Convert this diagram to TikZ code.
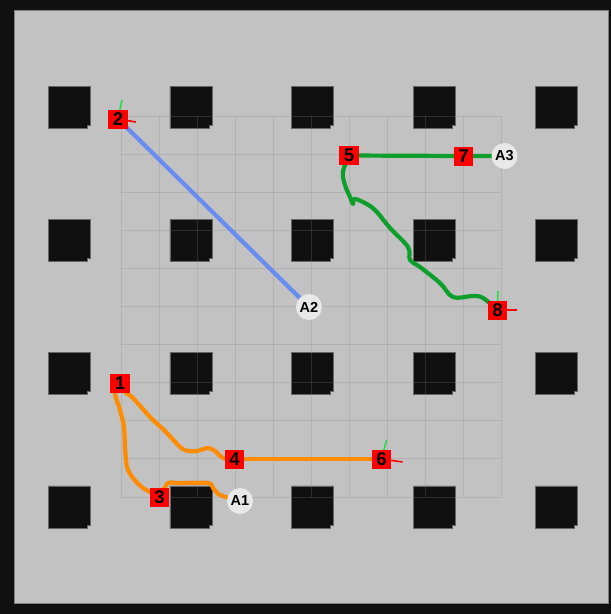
\documentclass[tikz,border=0pt]{standalone}
\usepackage{fontspec}
\setmainfont{Liberation Sans}

\definecolor{floorgray}{RGB}{194,194,194}
\definecolor{wallblack}{RGB}{16,16,16}
\definecolor{gridgray}{RGB}{131,131,131}
\definecolor{trailblue}{RGB}{104,140,240}
\definecolor{trailgreen}{RGB}{14,158,44}
\definecolor{trailorange}{RGB}{255,140,0}
\definecolor{agentgray}{RGB}{232,232,232}
\definecolor{axisgreen}{RGB}{40,220,70}

\pgfdeclarelayer{floor}
\pgfdeclarelayer{trail}
\pgfsetlayers{floor,trail,main}

\tikzset{
  goal/.style={fill=red, minimum width=19.5pt, minimum height=19pt, inner sep=0pt,
    font=\fontsize{18.5}{18.5}\selectfont\bfseries},
  agent/.style={circle, fill=agentgray, minimum size=26pt, inner sep=0pt,
    font=\fontsize{14.5}{14.5}\selectfont\bfseries},
  trail/.style={line width=4.2pt, line cap=round, line join=round},
  axisx/.style={red, line width=1.6pt},
  axisy/.style={axisgreen, line width=1.6pt},
}

\begin{document}
\begin{tikzpicture}[x=1pt,y=-1pt]
    \useasboundingbox (0,0) rectangle (611,614);

    \node[goal] (g1) at (120,383) {1};
    \node[goal] (g2) at (118,119) {2};
    \node[goal] (g3) at (159.5,497) {3};
    \node[goal] (g4) at (234.5,459) {4};
    \node[goal] (g5) at (349,155.5) {5};
    \node[goal] (g6) at (381.5,459) {6};
    \node[goal] (g7) at (463.5,156) {7};
    \node[goal] (g8) at (497.5,310) {8};
    \node[agent] (a1) at (240,501) {A1};
    \node[agent] (a2) at (309,307) {A2};
    \node[agent] (a3) at (504.5,156) {A3};

    \begin{pgfonlayer}{floor}
        \fill[wallblack] (0,0) rectangle (611,614);
        \filldraw[fill=floorgray, draw=gray, line width=0.8pt] (14,10) rectangle (608,603);
        \foreach \c in {0,...,4}
            \foreach \r in {0,...,3}
                \filldraw[fill=wallblack, draw=black!60, line width=0.6pt, shift={(48+121.8*\c,86+133.3*\r)}]
                    (0,0) -- (42,0) -- (42,39) -- (39,39) -- (39,42) -- (0,42) -- cycle;
        \foreach \i in {0,...,10} {
            \draw[gridgray, opacity=0.25, line width=1pt] (121+38*\i,116) -- (121+38*\i,497);
            \draw[gridgray, opacity=0.25, line width=1pt] (121,116+38.1*\i) -- (501,116+38.1*\i);
        }
    \end{pgfonlayer}

    \begin{pgfonlayer}{trail}
        \draw[trail, trailblue] (g2.center) -- (a2.center);
        \draw[trail, trailgreen] (g5.center) -- (g7.center) -- (a3.center);
        \draw[trail, trailgreen] plot[smooth, tension=0.6] coordinates {(g5.center) (343,172) (345,185)
            (350,197) (353,204) (354,199) (363,202) (375,210) (390,228) (408,247) (410,260) (420,267)
            (440,283) (453,297) (473,296) (483,298) (g8.center)};
        \draw[trail, trailorange] plot[smooth] coordinates {(g1.center) (115,393) (120,410)
            (124,427) (125,447) (127,467) (133,478) (143,488) (g3.center)};
        \draw[trail, trailorange] plot[smooth] coordinates {(g1.center) (125,392) (133,398) (150,417)
            (167,433) (180,447) (188,451) (197,451) (208,448) (215,451) (223,458) (g4.center)};
        \draw[trail, trailorange] plot[smooth] coordinates {(g3.center) (168,483) (177,483) (208,483)
            (213,488) (220,495) (a1.center)};
        \draw[trail, trailorange] (g4.center) -- (g6.center);

        \draw[axisy] (g2.center) -- ++(4,-19);
        \draw[axisx] (g2.center) -- ++(18,3);
        \draw[axisy] (g6.center) -- ++(5,-19);
        \draw[axisx] (g6.center) -- ++(21,3);
        \draw[axisy] (g8.center) -- ++(0.5,-19);
        \draw[axisx] (g8.center) -- ++(19,0);
    \end{pgfonlayer}
\end{tikzpicture}
\end{document}
